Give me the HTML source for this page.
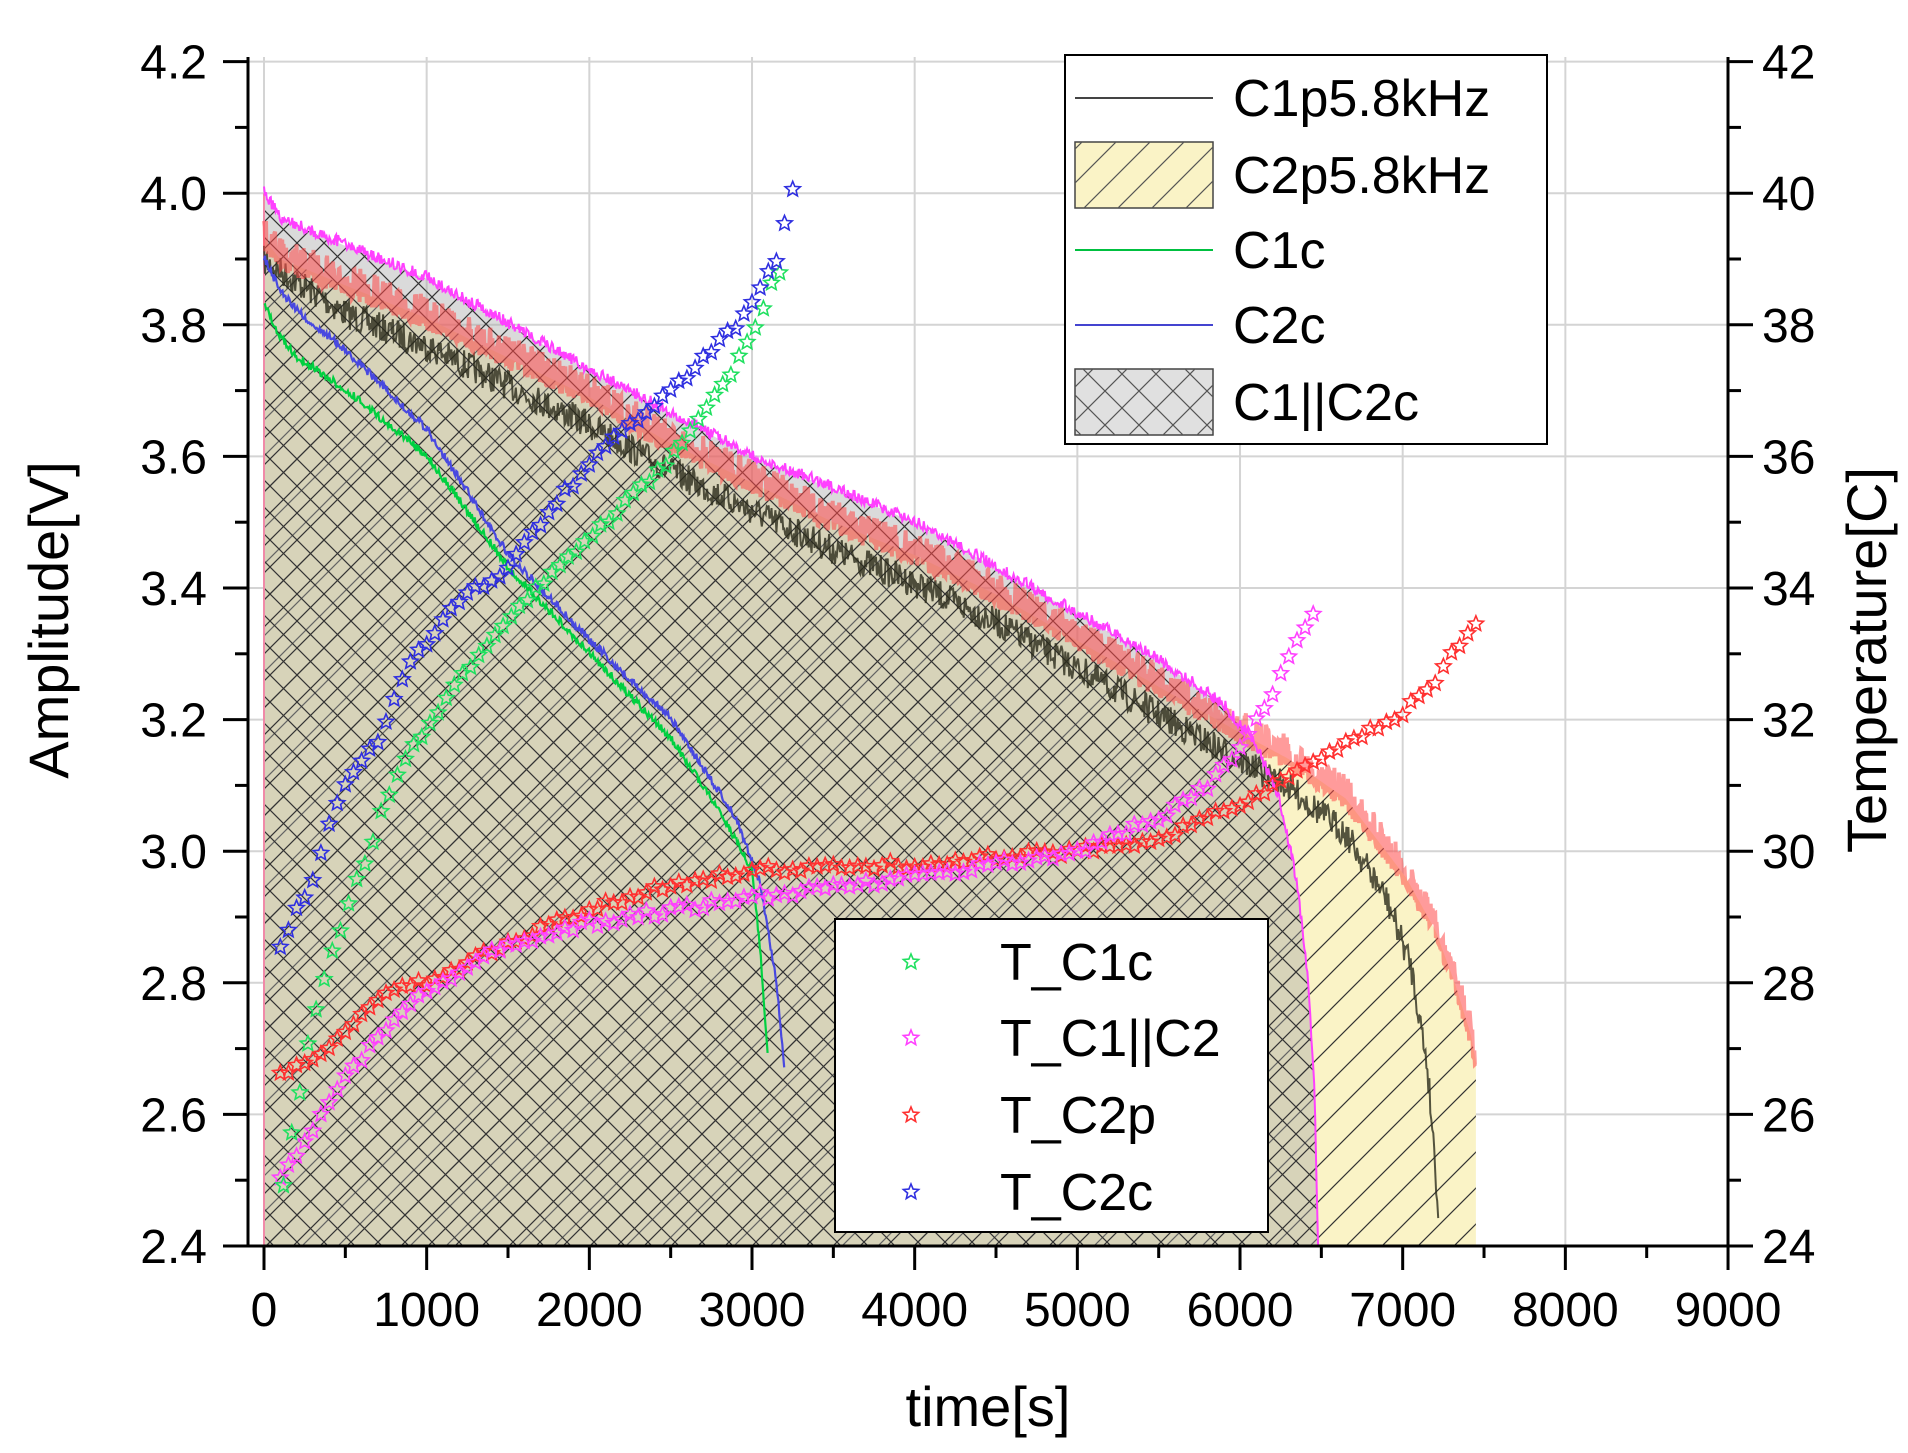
<!DOCTYPE html>
<html><head><meta charset="utf-8"><style>
html,body{margin:0;padding:0;background:#fff;}
svg{display:block;font-family:"Liberation Sans",Arial,sans-serif;}
</style></head><body>
<svg id="s" width="1908" height="1453" viewBox="0 0 1908 1453" xmlns="http://www.w3.org/2000/svg">
<defs>
<pattern id="cross" patternUnits="userSpaceOnUse" width="27" height="27">
<path d="M0,0 L27,27 M27,0 L0,27" stroke="#333" stroke-width="1.2" fill="none"/>
</pattern>
<pattern id="diag" patternUnits="userSpaceOnUse" width="36" height="36">
<path d="M0,36 L36,0 M-9,9 L9,-9 M27,45 L45,27" stroke="#333" stroke-width="1.2" fill="none"/>
</pattern>
<pattern id="crossL" patternUnits="userSpaceOnUse" width="34" height="34">
<path d="M0,0 L34,34 M34,0 L0,34" stroke="#555" stroke-width="1.2" fill="none"/>
</pattern>
<pattern id="diagL" patternUnits="userSpaceOnUse" width="34" height="34">
<path d="M0,34 L34,0 M-8,8 L8,-8 M26,42 L42,26" stroke="#555" stroke-width="1.2" fill="none"/>
</pattern>
<clipPath id="pc"><rect x="248" y="40" width="1480" height="1206"/></clipPath>
</defs>
<g id="grid"></g>
<g id="plot" clip-path="url(#pc)"></g>
<g id="axes"></g>
</svg>
<script>
const NS="http://www.w3.org/2000/svg";
const X=t=>264+t*0.16267, Y=v=>1246-(v-2.4)*658, YT=T=>Y(2.4+(T-24)/10);
function el(p,tag,a,txt){const e=document.createElementNS(NS,tag);for(const k in a)e.setAttribute(k,a[k]);if(txt!==undefined)e.textContent=txt;p.appendChild(e);return e;}
let seed=7;const rnd=()=>{seed=(seed*16807)%2147483647;return seed/2147483647;};
function interp(pts,t){if(t<=pts[0][0])return pts[0][1];for(let i=1;i<pts.length;i++){if(t<=pts[i][0]){const a=pts[i-1],b=pts[i];return a[1]+(b[1]-a[1])*(t-a[0])/(b[0]-a[0]);}}return pts[pts.length-1][1];}
const S=document.getElementById('s'),G=document.getElementById('grid'),P=document.getElementById('plot'),A=document.getElementById('axes');
for(let i=0;i<=9;i++){const x=X(i*1000);el(G,'line',{x1:x,y1:57,x2:x,y2:1246,stroke:'#d4d4d4','stroke-width':2});}
for(let i=0;i<=9;i++){const y=Y(2.4+i*0.2);el(G,'line',{x1:248,y1:y,x2:1728,y2:y,stroke:'#d4d4d4','stroke-width':2});}
const mag=[[0,4.0],[100,3.96],[500,3.92],[1000,3.87],[1500,3.80],[2000,3.73],[2500,3.665],[3000,3.6],[3500,3.55],[4000,3.5],[4500,3.43],[5000,3.36],[5500,3.29],[5900,3.22],[6100,3.16],[6250,3.07],[6350,2.95],[6420,2.8],[6460,2.62],[6480,2.4]];
const red=[[0,3.93],[100,3.9],[500,3.86],[1000,3.81],[1500,3.75],[2000,3.69],[2500,3.62],[3000,3.56],[3500,3.50],[4000,3.45],[4500,3.39],[5000,3.32],[5500,3.25],[6000,3.18],[6300,3.14],[6650,3.08],[7020,2.96],[7200,2.88],[7320,2.8],[7420,2.72],[7450,2.68],[7451,2.4]];
const blk=[[0,3.92],[500,3.84],[1000,3.79],[1500,3.73],[2000,3.67],[2500,3.6],[3000,3.54],[3500,3.48],[4000,3.43],[4500,3.37],[5000,3.30],[5500,3.23],[6000,3.16],[6300,3.12],[6650,3.05],[6900,2.95],[7050,2.85],[7150,2.7],[7200,2.55],[7220,2.46]];
const grn=[[0,3.83],[100,3.78],[200,3.75],[500,3.7],[1000,3.6],[1500,3.43],[2000,3.3],[2500,3.17],[2800,3.06],[3000,2.97],[3050,2.85],[3100,2.68]];
const blu=[[0,3.9],[100,3.85],[200,3.82],[500,3.76],[1000,3.64],[1500,3.45],[2000,3.32],[2500,3.2],[2900,3.05],[3050,2.95],[3150,2.8],[3200,2.67]];
function poly(pts,tEnd,dt,noise,down){let s=[];for(let t=0;t<=tEnd;t+=dt){let v=interp(pts,t);if(noise){const n=rnd()*noise;v+= down? -n : (rnd()<0.5?n:-n*0.5);}s.push(X(t).toFixed(1)+','+Y(v).toFixed(1));}return s.join(' ');}
function fillPoly(pts,tEnd){let s=[X(0)+','+Y(2.4)];for(let t=0;t<=tEnd;t+=10)s.push(X(t).toFixed(1)+','+Y(interp(pts,t)).toFixed(1));s.push(X(tEnd)+','+Y(2.4));return s.join(' ');}
const rf=fillPoly(red,7450);
el(P,'polygon',{points:rf,fill:'#faf3c6'});
el(P,'polygon',{points:rf,fill:'url(#diag)'});
const mf=fillPoly(mag,6480);
el(P,'polygon',{points:mf,fill:'#a8a8a8','fill-opacity':0.42});
el(P,'polygon',{points:mf,fill:'url(#cross)'});
el(P,'line',{x1:X(0),y1:Y(2.4),x2:X(0),y2:Y(4.0),stroke:'#f08aa8','stroke-width':2});
el(P,'polyline',{points:poly(blk,7220,6,0.045,true),fill:'none',stroke:'#2a2a1a','stroke-width':2,'stroke-opacity':0.8});
el(P,'polyline',{points:poly(red,7450,4,0.035,false),fill:'none',stroke:'#ff4848','stroke-width':4,'stroke-opacity':0.55});
el(P,'polyline',{points:poly(mag,6480,6,0.012,false),fill:'none',stroke:'#ff40ff','stroke-width':2});
el(P,'polyline',{points:poly(grn,3100,6,0.008,false),fill:'none',stroke:'#00d040','stroke-width':2.2});
el(P,'polyline',{points:poly(blu,3200,6,0.008,false),fill:'none',stroke:'#4848e0','stroke-width':2.2});
function star(cx,cy,r,c,p){let d='';for(let i=0;i<10;i++){const a=-Math.PI/2+i*Math.PI/5,rr=i%2?r*0.45:r;d+=(i?'L':'M')+(cx+rr*Math.cos(a)).toFixed(1)+','+(cy+rr*Math.sin(a)).toFixed(1);}el(p,'path',{d:d+'Z',fill:'none',stroke:c,'stroke-width':1.6});}
const tc2c=[[100,28.6],[200,29.1],[300,29.6],[400,30.4],[500,31.0],[700,31.7],[900,32.9],[1200,33.8],[1500,34.3],[1700,35.0],[2000,35.9],[2300,36.6],[2600,37.2],[2900,38.0],[3050,38.6],[3150,39.0],[3200,39.5],[3250,40.0]];
const tc1c=[[120,24.9],[170,25.7],[230,26.5],[270,27.1],[350,27.8],[420,28.5],[500,29.0],[570,29.6],[650,30.0],[750,30.8],[850,31.3],[1000,31.9],[1200,32.6],[1500,33.5],[1800,34.3],[2100,35.0],[2400,35.7],[2600,36.3],[2800,37.0],[3000,37.8],[3100,38.5],[3200,39.0]];
const tpar=[[100,25.0],[300,25.8],[500,26.6],[800,27.4],[1000,27.9],[1500,28.6],[2000,28.9],[3000,29.3],[4000,29.6],[5000,30.0],[5500,30.5],[5800,31.0],[6000,31.6],[6200,32.4],[6350,33.2],[6480,33.7]];
const tc2p=[[100,26.6],[300,26.8],[500,27.3],[800,27.9],[1000,28.0],[1500,28.6],[2000,29.1],[2500,29.5],[3000,29.7],[4000,29.8],[5000,30.0],[5500,30.2],[6000,30.7],[6500,31.4],[7000,32.1],[7200,32.6],[7450,33.5]];
const SG=el(S,'g',{'clip-path':'url(#pc)'});
function stars(pts,c,dt){for(let t=pts[0][0];t<=pts[pts.length-1][0]+1;t+=dt){star(X(t),YT(interp(pts,t)+(rnd()-0.5)*0.12),8,c,SG);}}
stars(tc2p,'#ff3030',50);stars(tpar,'#ff40ff',50);stars(tc1c,'#20e060',50);stars(tc2c,'#3030e0',50);
el(A,'line',{x1:248,y1:57,x2:248,y2:1247,stroke:'#000','stroke-width':3});
el(A,'line',{x1:1728,y1:57,x2:1728,y2:1247,stroke:'#000','stroke-width':3});
el(A,'line',{x1:247,y1:1246,x2:1729,y2:1246,stroke:'#000','stroke-width':3});
for(let i=0;i<=18;i++){const y=Y(2.4+i*0.1),L=i%2?13:25;
el(A,'line',{x1:248-L,y1:y,x2:248,y2:y,stroke:'#000','stroke-width':3});
el(A,'line',{x1:1728,y1:y,x2:1728+L,y2:y,stroke:'#000','stroke-width':3});
if(i%2==0){el(A,'text',{x:207,y:y+17,'font-size':48,'text-anchor':'end'},(2.4+i*0.1).toFixed(1));
el(A,'text',{x:1762,y:y+17,'font-size':48},String(24+i));}}
for(let i=0;i<=18;i++){const x=X(i*500),L=i%2?12:24;el(A,'line',{x1:x,y1:1246,x2:x,y2:1246+L,stroke:'#000','stroke-width':3});
if(i%2==0)el(A,'text',{x:x,y:1326,'font-size':48,'text-anchor':'middle'},String(i*500));}
el(A,'text',{x:988,y:1426,'font-size':56,'text-anchor':'middle'},'time[s]');
el(A,'text',{x:0,y:0,'font-size':56,'text-anchor':'middle',transform:'translate(68,620) rotate(-90)'},'Amplitude[V]');
el(A,'text',{x:0,y:0,'font-size':56,'text-anchor':'middle',transform:'translate(1886,660) rotate(-90)'},'Temperature[C]');
el(A,'rect',{x:1065,y:55,width:482,height:389,fill:'#fff',stroke:'#000','stroke-width':2});
const rows=[98,175,250,325,402],labs=['C1p5.8kHz','C2p5.8kHz','C1c','C2c','C1||C2c'];
el(A,'line',{x1:1075,y1:98,x2:1213,y2:98,stroke:'#444','stroke-width':2});
el(A,'rect',{x:1075,y:142,width:138,height:66,fill:'#faf3c6',stroke:'#444','stroke-width':1.5});
el(A,'rect',{x:1075,y:142,width:138,height:66,fill:'url(#diagL)'});
el(A,'line',{x1:1075,y1:250,x2:1213,y2:250,stroke:'#00c040','stroke-width':2});
el(A,'line',{x1:1075,y1:325,x2:1213,y2:325,stroke:'#4444d0','stroke-width':2});
el(A,'rect',{x:1075,y:369,width:138,height:66,fill:'#e0e0e0',stroke:'#444','stroke-width':1.5});
el(A,'rect',{x:1075,y:369,width:138,height:66,fill:'url(#crossL)'});
rows.forEach((y,i)=>el(A,'text',{x:1233,y:y+18,'font-size':52},labs[i]));
el(A,'rect',{x:835,y:919,width:433,height:313,fill:'#fff',stroke:'#000','stroke-width':2});
const r2=[962,1038,1115,1192],l2=['T_C1c','T_C1||C2','T_C2p','T_C2c'],c2=['#20e060','#ff40ff','#ff3030','#3030e0'];
r2.forEach((y,i)=>{star(911,y,8,c2[i],A);el(A,'text',{x:1000,y:y+18,'font-size':52},l2[i]);});
</script>
</body></html>
